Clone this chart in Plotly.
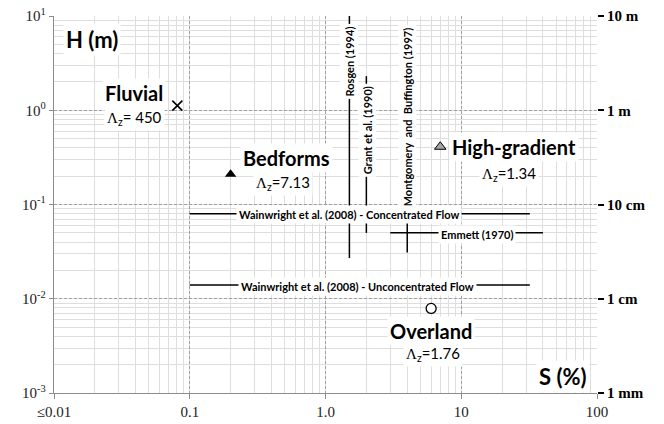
import numpy as np
import plotly.graph_objects as go

# point data (S in %, H in m)
pt_names = ["Fluvial", "Bedforms", "High-gradient", "Overland"]
pt_s = [0.081, 0.2, 7.0, 6.0]
pt_h = [1.12, 0.21, 0.41, 0.0079]
pt_lz = ["450", "7.13", "1.34", "1.76"]

# vertical ranges (constant slope, H range)
rosgen_s, rosgen_h = [1.5, 1.5], [0.027, 10]
grant_s, grant_h = [2.0, 2.0], [0.05, 2.3]
mont_s, mont_h = [4.0, 4.0], [0.105, 8]

# horizontal ranges (constant H, slope range)
wc_s, wc_h = [0.1, 32], [0.08, 0.08]
wu_s, wu_h = [0.1, 32], [0.014, 0.014]
emm_s, emm_h = [3, 40], [0.05, 0.05]
emm_vs, emm_vh = [4, 4], [0.031, 0.067]

x_tickvals = [0.01, 0.1, 1, 10, 100]
x_ticktext = ["≤0.01", "0.1", "1.0", "10", "100"]
y_tickvals = [0.001, 0.01, 0.1, 1, 10]
y_ticktext = ["10<sup>-3</sup>", "10<sup>-2</sup>", "10<sup>-1</sup>", "10<sup>0</sup>", "10<sup>1</sup>"]
y2_ticktext = ["1 mm", "1 cm", "10 cm", "1 m", "10 m"]

SANS = "Lato, Liberation Sans, Arial"
SERIF = "Liberation Serif, Times New Roman, serif"

fig = go.Figure()

for xs, ys in [(rosgen_s, rosgen_h), (grant_s, grant_h), (mont_s, mont_h),
               (wc_s, wc_h), (wu_s, wu_h), (emm_s, emm_h), (emm_vs, emm_vh)]:
    fig.add_trace(go.Scatter(x=xs, y=ys, mode="lines",
                             line=dict(color="black", width=1.5), showlegend=False))

# markers
fig.add_trace(go.Scatter(x=[pt_s[0]], y=[pt_h[0]], mode="markers",
                         marker=dict(symbol="x-thin", size=10, line=dict(color="black", width=1.6))))
fig.add_trace(go.Scatter(x=[pt_s[1]], y=[pt_h[1]], mode="markers",
                         marker=dict(symbol="triangle-up", size=10, color="black")))
fig.add_trace(go.Scatter(x=[pt_s[2]], y=[pt_h[2]], mode="markers",
                         marker=dict(symbol="triangle-up", size=10, color="#a6a6a6",
                                     line=dict(color="black", width=1))))
fig.add_trace(go.Scatter(x=[pt_s[3]], y=[pt_h[3]], mode="markers",
                         marker=dict(symbol="circle", size=10, color="white",
                                     line=dict(color="black", width=1.3))))
# dummy trace for right axis
fig.add_trace(go.Scatter(x=[1], y=[1], yaxis="y2", mode="markers",
                         marker=dict(opacity=0), hoverinfo="skip"))

def ann(x, y, text, size, bold=True, angle=0, family=SANS):
    fig.add_annotation(x=x, y=y, xref="x", yref="y", text=("<b>%s</b>" % text) if bold else text,
                       showarrow=False, textangle=angle, bgcolor="white", borderpad=2,
                       font=dict(family=family, size=size, color="black"))

def lz(v):
    return "<span style='font-family:Liberation Serif'>Λ</span><sub>z</sub>=" + v

ann(-1.72, 0.746, "H (m)", 22)
ann(1.749, -2.82, "S (%)", 22)
ann(-1.41, 0.185, pt_names[0], 20)
ann(-1.41, -0.079, lz(" " + pt_lz[0]), 15, bold=False)
ann(-0.288, -0.503, pt_names[1], 20)
ann(-0.31, -0.767, lz(pt_lz[1]), 15, bold=False)
ann(1.387, -0.386, pt_names[2], 20)
ann(1.351, -0.672, lz(pt_lz[2]), 15, bold=False)
ann(0.775, -2.344, pt_names[3], 20)
ann(0.79, -2.587, lz(pt_lz[3]), 15, bold=False)

ann(0.177, 0.513, "Rosgen (1994)", 11, angle=-90)
ann(0.31, -0.217, "Grant et al. (1990)", 11, angle=-90)
ann(0.605, -0.069, "Montgomery  and  Buffington (1997)", 11, angle=-90)
ann(0.17, -1.106, "Wainwright et al. (2008) - Concentrated Flow", 11)
ann(0.236, -1.868, "Wainwright et al. (2008) - Unconcentrated Flow", 11)
ann(1.114, -1.317, "Emmett (1970)", 11)

grid_minor = dict(dtick="D1", showgrid=True, gridcolor="#dedede", gridwidth=1.4,
                  griddash="solid", ticks="")
fig.update_xaxes(type="log", range=[-2, 2], tickvals=x_tickvals, ticktext=x_ticktext,
                 showgrid=True, gridcolor="#a0a0a0", griddash="3px,2px", gridwidth=1,
                 minor=grid_minor, showline=True, linecolor="#8c8c8c", linewidth=1.3,
                 ticks="outside", ticklen=5, tickcolor="#8c8c8c", automargin=False,
                 ticklabeloverflow="allow",
                 tickfont=dict(family=SERIF, size=15, color="#222"), zeroline=False)
fig.update_yaxes(type="log", range=[-3, 1], tickvals=y_tickvals, ticktext=y_ticktext,
                 showgrid=True, gridcolor="#a0a0a0", griddash="3px,2px", gridwidth=1,
                 minor=grid_minor, showline=True, linecolor="#8c8c8c", linewidth=1.3,
                 ticks="outside", ticklen=4, tickcolor="#8c8c8c", automargin=False,
                 ticklabeloverflow="allow",
                 tickfont=dict(family=SERIF, size=15, color="#222"), zeroline=False)

# page body keeps an 8px margin, so the figure is 16px smaller than the window
fig.update_layout(
    width=656, height=416,
    margin=dict(l=46, r=67, t=8, b=31),
    paper_bgcolor="white", plot_bgcolor="white",
    showlegend=False,
    yaxis2=dict(type="log", range=[-3, 1], overlaying="y", side="right", automargin=False,
                ticklabeloverflow="allow",
                tickvals=y_tickvals, ticktext=["<b>%s</b>" % t for t in y2_ticktext],
                showgrid=False, zeroline=False, ticks="outside", ticklen=6, tickwidth=2,
                tickcolor="black", tickfont=dict(family=SERIF, size=15, color="black")),
)

fig.write_html("out.html")
